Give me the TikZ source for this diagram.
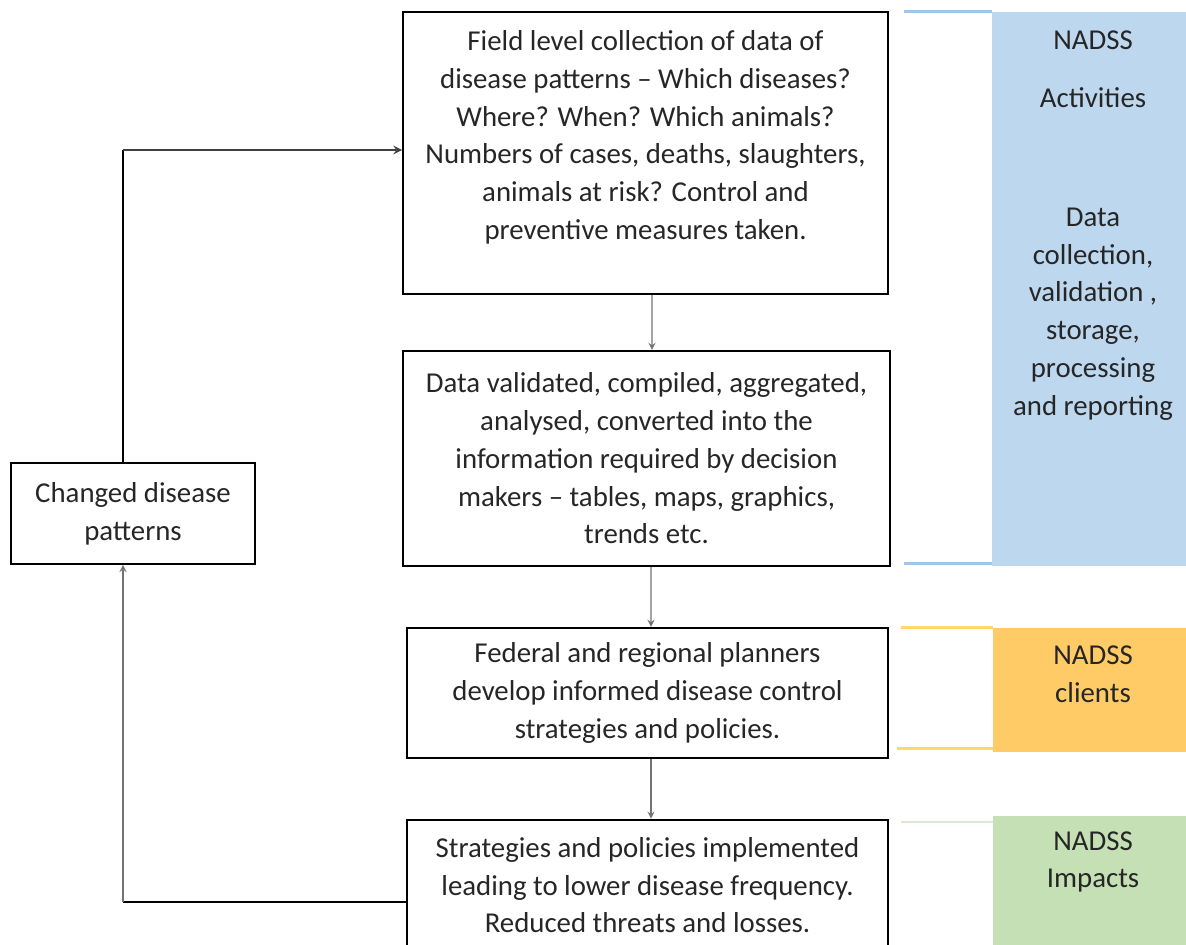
\documentclass[tikz,border=0pt]{standalone}
\usepackage{fontspec}
\setmainfont{Carlito}
\usetikzlibrary{positioning,arrows}
\definecolor{actblue}{HTML}{BDD7EE}
\definecolor{actline}{HTML}{9FC5E8}
\definecolor{clientorange}{HTML}{FFCB66}
\definecolor{clientline}{HTML}{FFD966}
\definecolor{impactgreen}{HTML}{C5E0B4}
\definecolor{impactline}{HTML}{D9EAD3}
\newcommand{\boxfont}{\fontsize{16.4}{21.5}\selectfont}
\tikzstyle{flowbox}=[draw, rectangle, line width=1.1pt, align=center, font=\boxfont, text=black!85, inner sep=0pt]
\tikzstyle{panel}=[draw=none, rectangle, minimum width=4.04cm]
\tikzstyle{paneltext}=[draw=none, fill=none, align=center, font=\boxfont, text=black!85]
\tikzstyle{flowarrow}=[->, >=stealth, line width=0.8pt, black!55]

\begin{document}
\begin{tikzpicture}[x=0.02cm, y=-0.02cm]
\useasboundingbox (0,0) rectangle (1186,945);
\clip (0,0) rectangle (1186,945);
% side panels
\node[panel, fill=actblue, minimum height=11.08cm] (act) at (1093,289) {};
\node[panel, fill=clientorange, minimum height=2.48cm] (client) at (1094,690) {};
\node[panel, fill=impactgreen, minimum height=2.9cm] (impact) at (1094,888) {};
\draw[actline, line width=1.5pt] (act.north west) -- ++(-88,0);
\draw[actline, line width=1.5pt] ([yshift=0.06cm]act.south west) -- ++(-88,0);
\draw[clientline, line width=1.5pt] (client.north west) -- ++(-92,0);
\draw[clientline, line width=1.5pt] ([yshift=0.08cm]client.south west) -- ++(-96,0);
\draw[impactline, line width=1.5pt] ([yshift=-0.14cm]impact.north west) -- ++(-92,0);
\node[paneltext] (actTitle) at (1093,69) {NADSS\\[0.4cm]Activities};
\node[paneltext] (actTasks) at (1093,314) {Data\\collection,\\validation ,\\storage,\\processing\\and reporting};
\node[paneltext] (clientTitle) at (1093,674) {NADSS\\clients};
\node[paneltext] (impactTitle) at (1093,862) {NADSS\\Impacts};
% main flow
\node[flowbox, minimum width=9.7cm, minimum height=5.64cm] (collect) at (645.5,153) {\parbox[c][4.9cm][t]{9.6cm}{\centering Field level collection of data of\\disease patterns – Which diseases?\\Where? When? Which animals?\\Numbers of cases, deaths, slaughters,\\animals at risk? Control and\\preventive measures taken.}};
\node[flowbox, below=1.1cm of collect, xshift=0.02cm, minimum width=9.74cm, minimum height=4.3cm] (compile) {Data validated, compiled, aggregated,\\analysed, converted into the\\information required by decision\\makers – tables, maps, graphics,\\trends etc.};
\node[flowbox, below=1.2cm of compile, xshift=0.02cm, minimum width=9.62cm, minimum height=2.6cm] (plan) {Federal and regional planners\\develop informed disease control\\strategies and policies.};
\node[flowbox, below=1.2cm of plan, minimum width=9.62cm, minimum height=2.62cm] (implement) {Strategies and policies implemented\\leading to lower disease frequency.\\Reduced threats and losses.};
\node[flowbox, minimum width=4.88cm, minimum height=2.02cm] (changed) at (133,513.5) {Changed disease\\patterns};
\draw[flowarrow] ([xshift=0.13cm]collect.south) -- ([xshift=0.11cm]compile.north);
\draw[flowarrow] ([xshift=0.09cm]compile.south) -- ([xshift=0.07cm]plan.north);
\draw[flowarrow] ([xshift=0.07cm]plan.south) -- ([xshift=0.07cm]implement.north);
% feedback loop
\coordinate (lowturn) at (123,902);
\coordinate (highturn) at (123,150);
\draw[line width=1.7pt] (implement.west |- lowturn) -- (lowturn);
\draw[flowarrow] (lowturn) -- (lowturn |- changed.south);
\draw[line width=1.2pt] (highturn |- changed.north) -- (highturn);
\draw[->, >=stealth, line width=1.2pt, black!75] (highturn) -- (highturn -| collect.west);
\end{tikzpicture}
\end{document}
